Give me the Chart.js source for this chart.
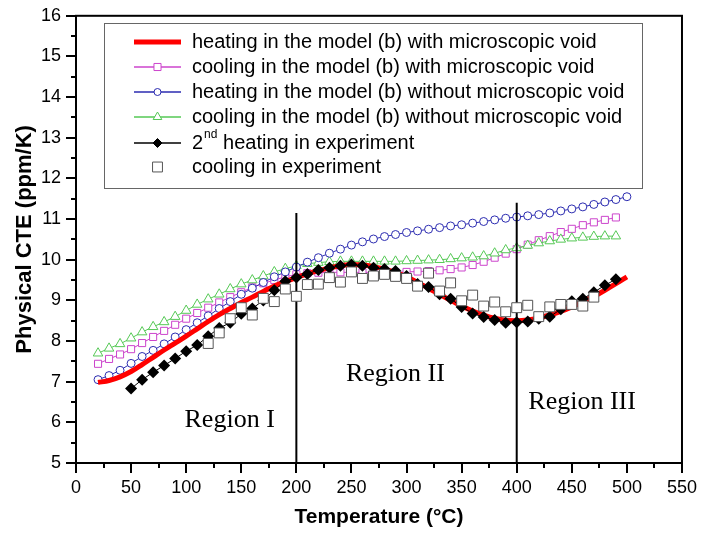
<!DOCTYPE html>
<html>
<head>
<meta charset="utf-8">
<title>Physical CTE</title>
<script src="https://cdn.jsdelivr.net/npm/chart.js@4.4.0/dist/chart.umd.min.js"></script>
<style>
  html, body { margin: 0; padding: 0; background: #fff; }
  #wrap { width: 701px; height: 533px; }
</style>
</head>
<body>
<div id="wrap"><canvas id="cteChart" width="701" height="533"></canvas></div>
<script>
// Temperaturas (°C)
const tModel = [20, 30, 40, 50, 60, 70, 80, 90, 100, 110, 120, 130, 140, 150, 160, 170, 180, 190, 200,
  210, 220, 230, 240, 250, 260, 270, 280, 290, 300, 310, 320, 330, 340, 350, 360, 370, 380, 390, 400,
  410, 420, 430, 440, 450, 460, 470, 480, 490, 500];
const tModelCool = [20, 30, 40, 50, 60, 70, 80, 90, 100, 110, 120, 130, 140, 150, 160, 170, 180, 190, 200,
  210, 220, 230, 240, 250, 260, 270, 280, 290, 300, 310, 320, 330, 340, 350, 360, 370, 380, 390, 400,
  410, 420, 430, 440, 450, 460, 470, 480, 490];
const tExpHeat = [50, 60, 70, 80, 90, 100, 110, 120, 130, 140, 150, 160, 170, 180, 190, 200,
  210, 220, 230, 240, 250, 260, 270, 280, 290, 300, 310, 320, 330, 340, 350, 360, 370, 380, 390, 400,
  410, 420, 430, 440, 450, 460, 470, 480, 490];
const tExpCool = [120, 130, 140, 150, 160, 170, 180, 190, 200,
  210, 220, 230, 240, 250, 260, 270, 280, 290, 300, 310, 320, 330, 340, 350, 360, 370, 380, 390, 400,
  410, 420, 430, 440, 450, 460, 470];

// CTE (ppm/K)
const heatVoid = [6.98, 7.03, 7.12, 7.25, 7.42, 7.6, 7.78, 7.95, 8.12,
  8.3, 8.48, 8.65, 8.8, 8.95, 9.08, 9.22, 9.35, 9.46, 9.56,
  9.65, 9.73, 9.8, 9.85, 9.88, 9.87, 9.83, 9.77, 9.69, 9.58,
  9.44, 9.3, 9.15, 9.0, 8.86, 8.74, 8.64, 8.56, 8.51, 8.5,
  8.52, 8.57, 8.64, 8.73, 8.84, 8.97, 9.1, 9.25, 9.41, 9.58];
const coolVoid = [7.44, 7.56, 7.67, 7.8, 7.95, 8.1, 8.25, 8.4, 8.55,
  8.69, 8.82, 8.95, 9.08, 9.2, 9.32, 9.42, 9.5, 9.58, 9.64,
  9.67, 9.68, 9.69, 9.69, 9.69, 9.69, 9.69, 9.69, 9.69, 9.7,
  9.71, 9.72, 9.74, 9.77, 9.81, 9.87, 9.95, 10.05, 10.15, 10.26,
  10.37, 10.48, 10.58, 10.68, 10.76, 10.85, 10.92, 10.98, 11.04];
const heatNoVoid = [7.05, 7.15, 7.28, 7.45, 7.62, 7.77, 7.93, 8.1, 8.28,
  8.45, 8.62, 8.8, 8.97, 9.15, 9.3, 9.44, 9.58, 9.7, 9.82,
  9.94, 10.05, 10.16, 10.26, 10.36, 10.44, 10.51, 10.57, 10.62, 10.67,
  10.71, 10.75, 10.79, 10.83, 10.86, 10.9, 10.94, 10.98, 11.02, 11.05,
  11.08, 11.11, 11.15, 11.2, 11.25, 11.3, 11.36, 11.42, 11.48, 11.55];
const coolNoVoid = [7.7, 7.82, 7.93, 8.07, 8.22, 8.35, 8.47, 8.6, 8.75,
  8.9, 9.03, 9.15, 9.28, 9.4, 9.5, 9.6, 9.7, 9.78, 9.85,
  9.9, 9.93, 9.95, 9.96, 9.96, 9.96, 9.96, 9.96, 9.96, 9.97,
  9.98, 9.99, 10.0, 10.02, 10.04, 10.06, 10.09, 10.16, 10.24, 10.29,
  10.35, 10.41, 10.46, 10.5, 10.53, 10.55, 10.57, 10.58, 10.58];
const expHeat = [6.83, 7.05, 7.23, 7.4, 7.57, 7.75,
  7.9, 8.12, 8.32, 8.45, 8.67, 8.8, 9.0, 9.25, 9.47, 9.56,
  9.65, 9.75, 9.8, 9.85, 9.88, 9.85, 9.8, 9.77, 9.72, 9.6,
  9.4, 9.33, 9.15, 9.04, 8.84, 8.68, 8.59, 8.52, 8.45, 8.46,
  8.48, 8.55, 8.6, 8.78, 8.98, 9.04, 9.2, 9.37, 9.52];
const expCool = [7.94, 8.2, 8.55, 8.82, 8.64, 9.05, 8.97, 9.28, 9.1,
  9.39, 9.4, 9.56, 9.45, 9.7, 9.54, 9.6, 9.64, 9.59, 9.54,
  9.35, 9.67, 9.23, 9.43, 8.99, 9.13, 8.86, 8.96, 8.72, 8.82,
  8.88, 8.6, 8.84, 8.9, 8.9, 8.86, 9.08];

// Limites de regiones (°C) y altura de las líneas
const regionBounds = [200, 400];
const regionLineTops = [11.15, 11.4];
const regionNames = ["Region I", "Region II", "Region III"];

// Ejes
const xTickValues = [0, 50, 100, 150, 200, 250, 300, 350, 400, 450, 500, 550];
const yTickValues = [5, 6, 7, 8, 9, 10, 11, 12, 13, 14, 15, 16];

const seriesNames = [
  "heating in the model (b) with microscopic void",
  "cooling in the model (b) with microscopic void",
  "heating in the model (b) without microscopic void",
  "cooling in the model (b) without microscopic void",
  "heating in experiment",
  "cooling in experiment"
];

const SANS = "'Liberation Sans', Arial, sans-serif";
const SERIF = "'Liberation Serif', 'Times New Roman', serif";
const MAGENTA = "#cc44cc";
const BLUE = "#2b2bb0";
const GREEN = "#55c855";
const GRAY = "#555555";

function pts(xs, ys) {
  return xs.map((x, i) => ({ x: x, y: ys[i] }));
}

// Marcadores para la leyenda
function drawMarker(ctx, style, x, y, r, stroke, fill) {
  ctx.save();
  ctx.beginPath();
  if (style === "rect") {
    const s = r * Math.SQRT1_2;
    ctx.rect(x - s, y - s, 2 * s, 2 * s);
  } else if (style === "circle") {
    ctx.arc(x, y, r, 0, Math.PI * 2);
  } else if (style === "triangle") {
    ctx.moveTo(x, y - r);
    ctx.lineTo(x + r * Math.sin(Math.PI * 2 / 3), y - r * Math.cos(Math.PI * 2 / 3));
    ctx.lineTo(x + r * Math.sin(Math.PI * 4 / 3), y - r * Math.cos(Math.PI * 4 / 3));
    ctx.closePath();
  } else if (style === "rectRot") {
    ctx.moveTo(x, y - r);
    ctx.lineTo(x + r, y);
    ctx.lineTo(x, y + r);
    ctx.lineTo(x - r, y);
    ctx.closePath();
  }
  ctx.fillStyle = fill;
  ctx.fill();
  ctx.lineWidth = 1;
  ctx.strokeStyle = stroke;
  ctx.stroke();
  ctx.restore();
}

// Marco, ticks menores, textos de región y leyenda
const decorPlugin = {
  id: "decor",
  afterDraw(chart) {
    const ctx = chart.ctx;
    const area = chart.chartArea;
    const xs = chart.scales.x;
    const ys = chart.scales.y;

    ctx.save();
    ctx.strokeStyle = "#000";
    ctx.lineWidth = 2;
    ctx.strokeRect(area.left, area.top, area.right - area.left, area.bottom - area.top);

    // ticks menores
    ctx.beginPath();
    for (let i = 0; i < xTickValues.length - 1; i++) {
      const px = Math.round(xs.getPixelForValue((xTickValues[i] + xTickValues[i + 1]) / 2));
      ctx.moveTo(px, area.bottom);
      ctx.lineTo(px, area.bottom + 5);
    }
    for (let i = 0; i < yTickValues.length - 1; i++) {
      const py = Math.round(ys.getPixelForValue((yTickValues[i] + yTickValues[i + 1]) / 2));
      ctx.moveTo(area.left, py);
      ctx.lineTo(area.left - 5, py);
    }
    ctx.stroke();

    // textos de región
    const regionPos = [[98.5, 5.88], [245, 7.01], [410.5, 6.33]];
    ctx.fillStyle = "#000";
    ctx.font = "26px " + SERIF;
    ctx.textAlign = "left";
    ctx.textBaseline = "alphabetic";
    regionNames.forEach((name, i) => {
      ctx.fillText(name, xs.getPixelForValue(regionPos[i][0]), ys.getPixelForValue(regionPos[i][1]));
    });

    // leyenda
    const box = { left: 104, top: 23, right: 642, bottom: 188 };
    ctx.fillStyle = "#fff";
    ctx.fillRect(box.left, box.top, box.right - box.left, box.bottom - box.top);
    ctx.strokeStyle = "#666";
    ctx.lineWidth = 1;
    ctx.strokeRect(box.left + 0.5, box.top + 0.5, box.right - box.left, box.bottom - box.top);

    const rows = [42, 67, 92, 117, 143, 167];
    const x1 = 134, x2 = 181, xm = 157.5, tx = 192;
    const samples = [
      { color: "#ff0000", width: 5, marker: null },
      { color: MAGENTA, width: 1.5, marker: "rect", r: 5, fill: "#fff" },
      { color: BLUE, width: 1.5, marker: "circle", r: 3.5, fill: "#fff" },
      { color: GREEN, width: 1.5, marker: "triangle", r: 5, fill: "#fff" },
      { color: "#000", width: 1.5, marker: "rectRot", r: 4.5, fill: "#000" },
      { color: null, width: 0, marker: "rect", r: 7, fill: "#fff", stroke: GRAY }
    ];
    samples.forEach((s, i) => {
      const y = rows[i];
      if (s.color) {
        ctx.beginPath();
        ctx.strokeStyle = s.color;
        ctx.lineWidth = s.width;
        ctx.moveTo(x1, y);
        ctx.lineTo(x2, y);
        ctx.stroke();
      }
      if (s.marker) {
        drawMarker(ctx, s.marker, xm, y, s.r, s.stroke || s.color, s.fill);
      }
    });

    ctx.fillStyle = "#000";
    ctx.textBaseline = "middle";
    ctx.font = "20px " + SANS;
    for (let i = 0; i < 4; i++) {
      ctx.fillText(seriesNames[i], tx, rows[i]);
    }
    // 2nd heating con superíndice
    ctx.fillText("2", tx, rows[4]);
    const w2 = ctx.measureText("2").width;
    ctx.font = "12px " + SANS;
    ctx.fillText("nd", tx + w2 + 1, rows[4] - 8);
    const wnd = ctx.measureText("nd").width;
    ctx.font = "20px " + SANS;
    ctx.fillText(" " + seriesNames[4], tx + w2 + wnd + 1, rows[4]);
    ctx.fillText(seriesNames[5], tx, rows[5]);
    ctx.restore();
  }
};

const regionLines = regionBounds.map((b, i) => ({
  data: [{ x: b, y: 5 }, { x: b, y: regionLineTops[i] }],
  showLine: true,
  borderColor: "#000",
  borderWidth: 2,
  pointRadius: 0
}));

const ctx = document.getElementById("cteChart").getContext("2d");
new Chart(ctx, {
  type: "scatter",
  data: {
    datasets: [
      {
        label: "cooling in experiment",
        data: pts(tExpCool, expCool),
        showLine: false,
        pointStyle: "rect",
        pointRadius: 7,
        pointBorderWidth: 1,
        pointBorderColor: GRAY,
        pointBackgroundColor: "#fff"
      },
      {
        label: "2nd heating in experiment",
        data: pts(tExpHeat, expHeat),
        showLine: true,
        borderColor: "#000",
        borderWidth: 1,
        pointStyle: "rectRot",
        pointRadius: 6,
        pointBorderWidth: 0,
        pointBackgroundColor: "#000"
      },
      regionLines[0],
      regionLines[1],
      {
        label: seriesNames[0],
        data: pts(tModel, heatVoid),
        showLine: true,
        borderColor: "#ff0000",
        borderWidth: 5,
        cubicInterpolationMode: "monotone",
        pointRadius: 0
      },
      {
        label: seriesNames[2],
        data: pts(tModel, heatNoVoid),
        showLine: true,
        borderColor: BLUE,
        borderWidth: 1,
        pointStyle: "circle",
        pointRadius: 4,
        pointBorderWidth: 1,
        pointBorderColor: BLUE,
        pointBackgroundColor: "#fff"
      },
      {
        label: seriesNames[3],
        data: pts(tModelCool, coolNoVoid),
        showLine: true,
        borderColor: GREEN,
        borderWidth: 1,
        pointStyle: "triangle",
        pointRadius: 5.5,
        pointBorderWidth: 1,
        pointBorderColor: GREEN,
        pointBackgroundColor: "#fff"
      },
      {
        label: seriesNames[1],
        data: pts(tModelCool, coolVoid),
        showLine: true,
        borderColor: MAGENTA,
        borderWidth: 1,
        pointStyle: "rect",
        pointRadius: 5,
        pointBorderWidth: 1,
        pointBorderColor: MAGENTA,
        pointBackgroundColor: "#fff"
      }
    ]
  },
  options: {
    responsive: false,
    animation: false,
    devicePixelRatio: 1,
    layout: { padding: { left: 0, right: 17, top: 15, bottom: 0 } },
    plugins: {
      legend: { display: false },
      tooltip: { enabled: false }
    },
    scales: {
      x: {
        type: "linear",
        min: 0,
        max: 550,
        afterBuildTicks: (s) => { s.ticks = xTickValues.map((v) => ({ value: v })); },
        afterFit: (s) => { s.height = 70; },
        grid: { display: true, drawOnChartArea: false, drawTicks: true, tickLength: 10, color: "#000", lineWidth: 2 },
        border: { display: true, color: "#000", width: 2 },
        ticks: { color: "#000", font: { family: SANS, size: 18 }, padding: 4, maxRotation: 0, autoSkip: false },
        title: {
          display: true,
          text: "Temperature (°C)",
          color: "#000",
          font: { family: SANS, size: 21, weight: "bold" },
          padding: { top: 0, bottom: 3 }
        }
      },
      y: {
        type: "linear",
        min: 5,
        max: 16,
        afterBuildTicks: (s) => { s.ticks = yTickValues.map((v) => ({ value: v })); },
        afterFit: (s) => { s.width = 76; },
        grid: { display: true, drawOnChartArea: false, drawTicks: true, tickLength: 10, color: "#000", lineWidth: 2 },
        border: { display: true, color: "#000", width: 2 },
        ticks: { color: "#000", font: { family: SANS, size: 18 }, padding: 5, autoSkip: false },
        title: {
          display: true,
          text: "Physical CTE (ppm/K)",
          color: "#000",
          font: { family: SANS, size: 22, weight: "bold" },
          padding: { top: 12, bottom: 0 }
        }
      }
    }
  },
  plugins: [decorPlugin]
});
</script>
</body>
</html>
